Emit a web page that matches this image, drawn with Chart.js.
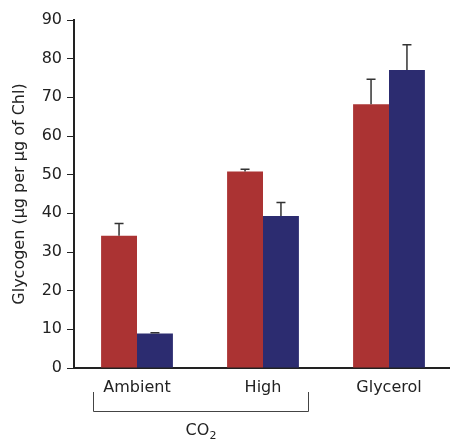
<!DOCTYPE html>
<html>
<head>
<meta charset="utf-8">
<script src="https://cdn.jsdelivr.net/npm/chart.js@4"></script>
<style>
  html, body { margin: 0; padding: 0; background: #fff; overflow: hidden; }
  #wrap { width: 453px; height: 440px; }
</style>
</head>
<body>
<div id="wrap"><canvas id="chart" width="453" height="440"></canvas></div>
<script>
// Data
const categories = ['Ambient', 'High', 'Glycerol'];
const redValues = [34.2, 50.8, 68.2];
const redErrors = [3.2, 0.6, 6.5];
const blueValues = [8.9, 39.3, 77.1];
const blueErrors = [0.2, 3.5, 6.5];
const yTicks = [0, 10, 20, 30, 40, 50, 60, 70, 80, 90];

const FONT = 'DejaVu Sans';
const INK = '#222';

// Upward-only error bars with a small cap
const errorBars = {
    id: 'errorBars',
    afterDatasetsDraw(chart) {
        const ctx = chart.ctx;
        const y = chart.scales.y;
        ctx.save();
        ctx.strokeStyle = '#333';
        ctx.lineWidth = 1.5;
        chart.data.datasets.forEach((ds, i) => {
            const meta = chart.getDatasetMeta(i);
            meta.data.forEach((bar, j) => {
                const top = y.getPixelForValue(ds.data[j] + ds.errors[j]);
                ctx.beginPath();
                ctx.moveTo(bar.x, bar.y);
                ctx.lineTo(bar.x, top);
                ctx.moveTo(bar.x - 4.5, top);
                ctx.lineTo(bar.x + 4.5, top);
                ctx.stroke();
            });
        });
        ctx.restore();
    }
};

// Bracket under Ambient/High with CO2 label
const co2Bracket = {
    id: 'co2Bracket',
    afterDraw(chart) {
        const ctx = chart.ctx;
        const x = chart.scales.x;
        const left = Math.round(x.getPixelForValue(0) - 44) + 0.5;
        const right = Math.round(x.getPixelForValue(1) + 45) + 0.5;
        ctx.save();
        ctx.strokeStyle = '#444';
        ctx.lineWidth = 1;
        ctx.beginPath();
        ctx.moveTo(left, 392);
        ctx.lineTo(left, 411.5);
        ctx.lineTo(right, 411.5);
        ctx.lineTo(right, 392);
        ctx.stroke();
        const mid = (left + right) / 2;
        ctx.fillStyle = INK;
        ctx.textBaseline = 'alphabetic';
        ctx.font = '16px "' + FONT + '"';
        const w1 = ctx.measureText('CO').width;
        ctx.font = '11px "' + FONT + '"';
        const w2 = ctx.measureText('2').width;
        const start = mid - (w1 + w2) / 2;
        ctx.font = '16px "' + FONT + '"';
        ctx.textAlign = 'left';
        ctx.fillText('CO', start, 435);
        ctx.font = '11px "' + FONT + '"';
        ctx.fillText('2', start + w1, 439);
        ctx.restore();
    }
};

new Chart(document.getElementById('chart'), {
    type: 'bar',
    data: {
        labels: categories,
        datasets: [
            { data: redValues, errors: redErrors, backgroundColor: '#ab3333' },
            { data: blueValues, errors: blueErrors, backgroundColor: '#2c2c70' }
        ]
    },
    options: {
        responsive: false,
        animation: false,
        layout: { padding: { top: 20, right: 1, bottom: 0, left: 0 } },
        datasets: { bar: { categoryPercentage: 0.57, barPercentage: 1 } },
        plugins: { legend: { display: false }, tooltip: { enabled: false } },
        scales: {
            x: {
                grid: { display: false, drawTicks: false },
                border: { display: true, color: INK, width: 2 },
                ticks: { color: INK, padding: 10, font: { family: FONT, size: 16 } },
                afterFit: (s) => { s.height = 72; }
            },
            y: {
                min: 0,
                max: 90,
                afterBuildTicks: (s) => { s.ticks = yTicks.map(v => ({ value: v })); },
                grid: { drawOnChartArea: false, drawTicks: true, tickLength: 7, color: INK, width: 1.5 },
                border: { display: true, color: INK, width: 2 },
                ticks: { color: INK, padding: 5, font: { family: FONT, size: 16 } },
                title: {
                    display: true,
                    text: 'Glycogen (µg per µg of Chl)',
                    color: INK,
                    font: { family: FONT, size: 16 },
                    padding: { top: 10, bottom: 0 }
                },
                afterFit: (s) => { s.width = 74; }
            }
        }
    },
    plugins: [errorBars, co2Bracket]
});
</script>
</body>
</html>
